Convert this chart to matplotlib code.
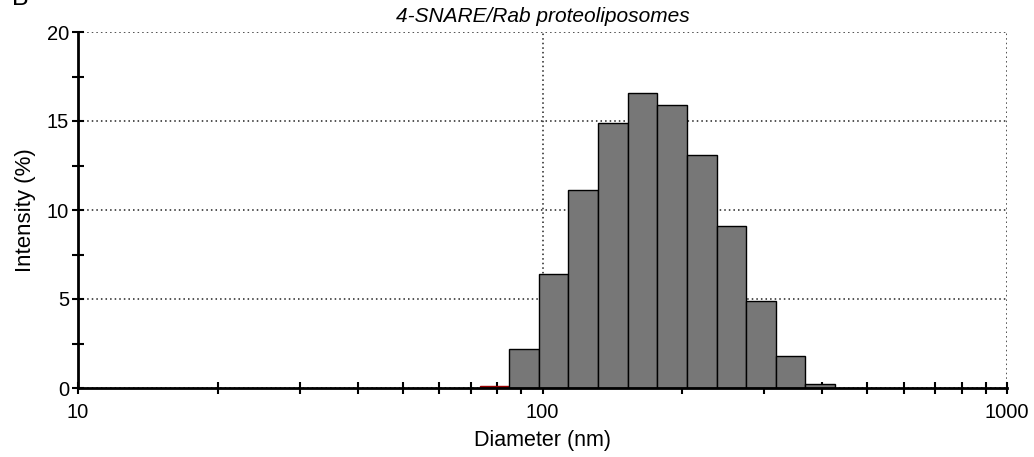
import numpy as np
import matplotlib
matplotlib.use("Agg")
import matplotlib.pyplot as plt
from matplotlib.ticker import LogLocator, NullFormatter, FixedLocator

diameters = [78.82, 91.28, 105.7, 122.4, 141.8, 164.2, 190.1, 220.2, 255.0, 295.3, 342.0, 396.1]
intensity = [0.1, 2.2, 6.4, 11.1, 14.9, 16.6, 15.9, 13.1, 9.1, 4.9, 1.8, 0.2]
bar_colors = ["#990000"] + ["#777777"] * (len(diameters) - 1)
edge_colors = ["#990000"] + ["black"] * (len(diameters) - 1)

title = "4-SNARE/Rab proteoliposomes"
x_ticks = [10, 100, 1000]
y_ticks = [0, 5, 10, 15, 20]

plt.rcParams['font.family'] = ['Liberation Sans', 'DejaVu Sans']

# Bin edges: geometric midpoints between neighbouring bin centres
d = np.array(diameters)
ratio = d[1] / d[0]
edges = np.concatenate([[d[0] / np.sqrt(ratio)], np.sqrt(d[:-1] * d[1:]), [d[-1] * np.sqrt(ratio)]])

fig = plt.figure(figsize=(10.34, 4.57), dpi=100)
ax = fig.add_axes([78 / 1034, 69 / 457, 929 / 1034, 356 / 457])

ax.bar(edges[:-1], intensity, width=np.diff(edges), align='edge',
       color=bar_colors, edgecolor=edge_colors, linewidth=1.0, zorder=3)

ax.set_xscale('log')
ax.set_xlim(10, 1000)
ax.set_ylim(0, 20)

# Ticks
ax.xaxis.set_major_locator(FixedLocator(x_ticks))
ax.set_xticklabels([str(t) for t in x_ticks])
ax.xaxis.set_minor_locator(LogLocator(base=10, subs=np.arange(2, 10)))
ax.xaxis.set_minor_formatter(NullFormatter())
ax.set_yticks(y_ticks)
ax.set_yticks([2.5, 7.5, 12.5, 17.5], minor=True)

ax.tick_params(which='both', direction='inout', length=9, width=1.5, labelsize=14.5, colors='black')
ax.tick_params(axis='x', which='both', pad=6)
ax.tick_params(axis='y', which='both', pad=2)

# Dotted grid on major ticks only
ax.grid(True, which='major', linestyle=(0, (1, 2)), color='#222222', linewidth=1.1, zorder=0)
ax.set_axisbelow(True)

for side in ['top', 'right']:
    ax.spines[side].set_visible(False)
for side in ['left', 'bottom']:
    ax.spines[side].set_linewidth(2)
    ax.spines[side].set_zorder(4)

ax.set_xlabel("Diameter (nm)", fontsize=15.5, labelpad=6)
ax.set_ylabel("Intensity (%)", fontsize=16, labelpad=8)
ax.set_title(title, fontsize=15, style='italic', y=1.0, pad=7.5)

fig.text(0.012, 1 - 5 / 457, "B", fontsize=18, va='baseline', ha='left')

fig.savefig("out.png", dpi=100)
